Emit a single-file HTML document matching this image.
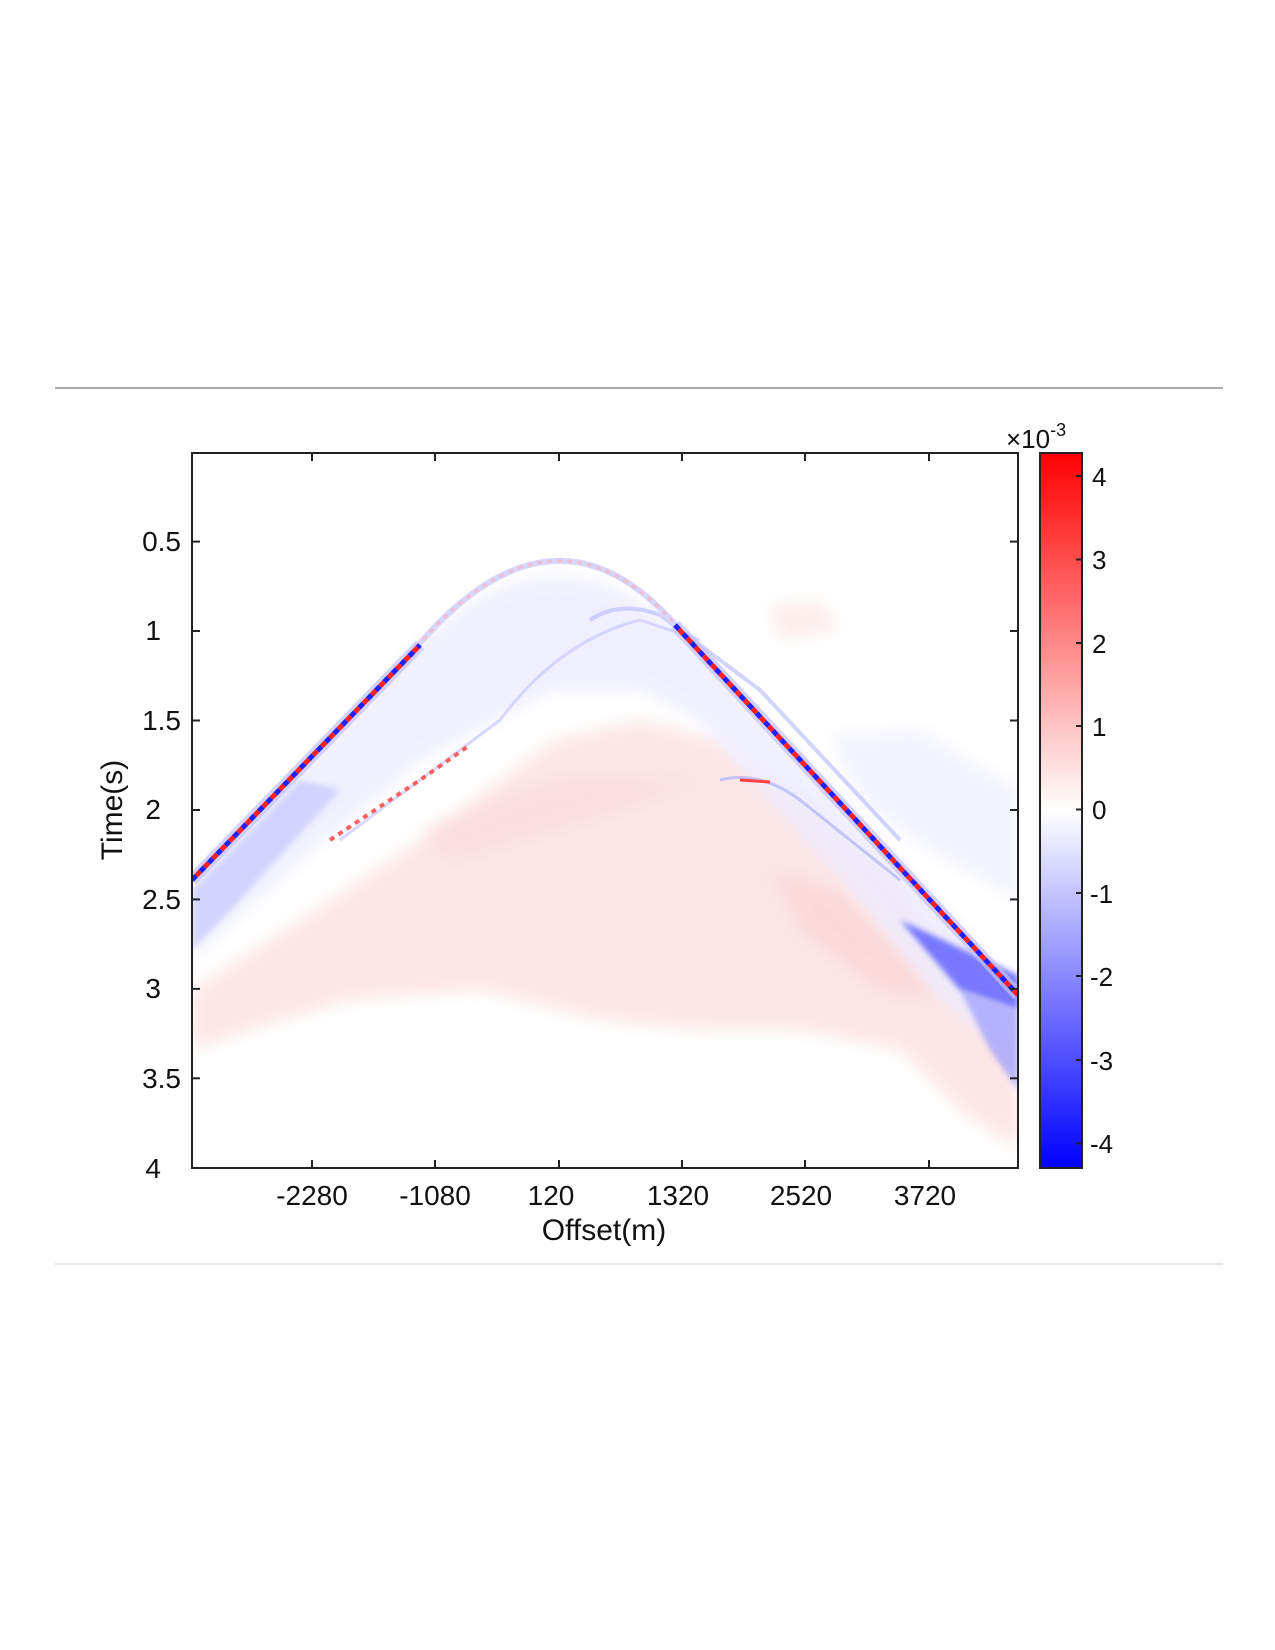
<!DOCTYPE html>
<html><head><meta charset="utf-8"><style>
html,body{margin:0;padding:0;background:#fff}
svg{display:block}
text{font-family:"Liberation Sans",sans-serif;fill:#111}
</style></head><body>
<svg width="1275" height="1650" viewBox="0 0 1275 1650" xmlns="http://www.w3.org/2000/svg">
<defs>
<clipPath id="ax"><rect x="192" y="453" width="826" height="715"/></clipPath>
<filter id="b6" x="-20%" y="-20%" width="140%" height="140%"><feGaussianBlur stdDeviation="8"/></filter>
<filter id="b3" x="-20%" y="-20%" width="140%" height="140%"><feGaussianBlur stdDeviation="3"/></filter>
<linearGradient id="cb" x1="0" y1="0" x2="0" y2="1">
<stop offset="0" stop-color="#ff0000"/><stop offset="0.5" stop-color="#ffffff"/><stop offset="1" stop-color="#0000ff"/>
</linearGradient>
</defs>
<line x1="55" y1="388" x2="1223" y2="388" stroke="#555" stroke-width="1"/>
<line x1="55" y1="1264" x2="1223" y2="1264" stroke="#ccc" stroke-width="1"/>
<g clip-path="url(#ax)">
<rect x="192" y="453" width="826" height="715" fill="#fff"/>
<!-- pink broad region -->
<path d="M192,990 L300,920 L420,840 L553,740 L640,720 L720,740 L820,810 L900,880 L1018,1020 L1018,1150 L960,1110 L900,1050 L800,1030 L700,1030 L600,1020 L480,990 L350,1000 L250,1030 L192,1050 Z" fill="#fcdede" opacity="0.75" filter="url(#b6)"/>
<path d="M770,870 L840,890 L900,950 L940,1000 L880,990 L800,930 Z" fill="#fbcccc" opacity="0.5" filter="url(#b6)"/>
<path d="M420,830 L553,780 L700,780 L620,810 L450,860 Z" fill="#fbd0d0" opacity="0.4" filter="url(#b6)"/>
<!-- blue region inside hyperbola -->
<path d="M192,880 L410,655 Q553,500 700,650 L1018,990 L1018,1060 L940,1000 L860,900 L760,790 L700,720 L640,690 L553,690 L420,760 L300,860 L192,960 Z" fill="#ececff" opacity="0.8" filter="url(#b6)"/>
<path d="M192,890 L300,780 L340,790 L240,900 L192,950 Z" fill="#c6c8ff" opacity="0.7" filter="url(#b3)"/>
<path d="M900,920 L1018,975 L1018,1010 L960,990 Z" fill="#5a5cff" opacity="0.8" filter="url(#b3)"/>
<path d="M960,990 L1018,1010 L1018,1090 L990,1050 Z" fill="#8a8cff" opacity="0.6" filter="url(#b3)"/>
<path d="M830,735 L920,730 L1018,790 L1018,900 L930,850 L860,800 Z" fill="#f1f2ff" opacity="0.9" filter="url(#b6)"/>
<path d="M770,605 L820,600 L840,630 L780,640 Z" fill="#fde8e8" opacity="0.8" filter="url(#b6)"/>
<!-- secondary curves -->
<path d="M340,840 L500,720 Q560,640 640,620 L700,640" fill="none" stroke="#c8c9ff" stroke-width="3" opacity="0.7"/>
<path d="M590,620 Q620,600 660,615 L760,690 L900,840" fill="none" stroke="#b5b6ff" stroke-width="4" opacity="0.6"/>
<path d="M720,780 Q760,770 800,800 L900,880" fill="none" stroke="#a5a7ff" stroke-width="3" opacity="0.6"/>
<path d="M330,840 L420,780 L470,745" fill="none" stroke="#ff5050" stroke-width="4" stroke-dasharray="5 5" opacity="0.9"/>
<path d="M740,780 L770,782" fill="none" stroke="#ff4040" stroke-width="3"/>
<!-- first arrival: faint near apex -->
<path d="M410,655 Q553,480 680,630" fill="none" stroke="#d6d7ff" stroke-width="6"/>
<path d="M410,655 Q553,480 680,630" fill="none" stroke="#ffaaaa" stroke-width="3" stroke-dasharray="5 5" opacity="0.6"/>
<!-- strong branches -->
<path d="M192,880 L420,645" fill="none" stroke="#c0c2ff" stroke-width="12" opacity="0.7"/>
<path d="M192,880 L420,645" fill="none" stroke="#2020ff" stroke-width="5" stroke-dasharray="6 6"/>
<path d="M192,880 L420,645" fill="none" stroke="#ff2020" stroke-width="5" stroke-dasharray="6 6" stroke-dashoffset="6"/>
<path d="M675,625 L1018,995" fill="none" stroke="#c0c2ff" stroke-width="12" opacity="0.7"/>
<path d="M675,625 L1018,995" fill="none" stroke="#2020ff" stroke-width="5" stroke-dasharray="6 6"/>
<path d="M675,625 L1018,995" fill="none" stroke="#ff2020" stroke-width="5" stroke-dasharray="6 6" stroke-dashoffset="6"/>
</g>
<rect x="192" y="453" width="826" height="715" fill="none" stroke="#222" stroke-width="2"/>
<g stroke="#222" stroke-width="2">
<line x1="312" y1="1168" x2="312" y2="1160"/><line x1="435" y1="1168" x2="435" y2="1160"/><line x1="559" y1="1168" x2="559" y2="1160"/><line x1="682" y1="1168" x2="682" y2="1160"/><line x1="805" y1="1168" x2="805" y2="1160"/><line x1="929" y1="1168" x2="929" y2="1160"/>
<line x1="312" y1="453" x2="312" y2="461"/><line x1="435" y1="453" x2="435" y2="461"/><line x1="559" y1="453" x2="559" y2="461"/><line x1="682" y1="453" x2="682" y2="461"/><line x1="805" y1="453" x2="805" y2="461"/><line x1="929" y1="453" x2="929" y2="461"/>
<line x1="192" y1="541.6" x2="200" y2="541.6"/><line x1="192" y1="631" x2="200" y2="631"/><line x1="192" y1="720.5" x2="200" y2="720.5"/><line x1="192" y1="810" x2="200" y2="810"/><line x1="192" y1="899.4" x2="200" y2="899.4"/><line x1="192" y1="988.9" x2="200" y2="988.9"/><line x1="192" y1="1078.3" x2="200" y2="1078.3"/>
<line x1="1018" y1="541.6" x2="1010" y2="541.6"/><line x1="1018" y1="631" x2="1010" y2="631"/><line x1="1018" y1="720.5" x2="1010" y2="720.5"/><line x1="1018" y1="810" x2="1010" y2="810"/><line x1="1018" y1="899.4" x2="1010" y2="899.4"/><line x1="1018" y1="988.9" x2="1010" y2="988.9"/><line x1="1018" y1="1078.3" x2="1010" y2="1078.3"/>
</g>
<g font-size="28" text-anchor="end">
<text x="181" y="551">0.5</text><text x="161" y="640">1</text><text x="181" y="730">1.5</text><text x="161" y="819">2</text><text x="181" y="909">2.5</text><text x="161" y="998">3</text><text x="181" y="1088">3.5</text><text x="161" y="1178">4</text>
</g>
<g font-size="28" text-anchor="middle">
<text x="312" y="1205">-2280</text><text x="435" y="1205">-1080</text><text x="551" y="1205">120</text><text x="678" y="1205">1320</text><text x="801" y="1205">2520</text><text x="925" y="1205">3720</text>
<text x="604" y="1240" font-size="30">Offset(m)</text>
</g>
<text transform="translate(122,810) rotate(-90)" font-size="30" text-anchor="middle">Time(s)</text>
<rect x="1040" y="453" width="42" height="715" fill="url(#cb)" stroke="#222" stroke-width="2"/>
<g stroke="#222" stroke-width="2">
<line x1="1082" y1="476" x2="1076" y2="476"/><line x1="1082" y1="559.5" x2="1076" y2="559.5"/><line x1="1082" y1="643" x2="1076" y2="643"/><line x1="1082" y1="726" x2="1076" y2="726"/><line x1="1082" y1="809.5" x2="1076" y2="809.5"/><line x1="1082" y1="893" x2="1076" y2="893"/><line x1="1082" y1="976" x2="1076" y2="976"/><line x1="1082" y1="1060" x2="1076" y2="1060"/><line x1="1082" y1="1143.5" x2="1076" y2="1143.5"/>
</g>
<g font-size="26">
<text x="1092" y="486">4</text><text x="1092" y="569">3</text><text x="1092" y="653">2</text><text x="1092" y="736">1</text><text x="1092" y="819">0</text><text x="1090" y="903">-1</text><text x="1090" y="986">-2</text><text x="1090" y="1070">-3</text><text x="1090" y="1153">-4</text>
</g>
<text x="1006" y="448" font-size="26">×10<tspan font-size="18" dy="-12">-3</tspan></text>
</svg>
</body></html>
